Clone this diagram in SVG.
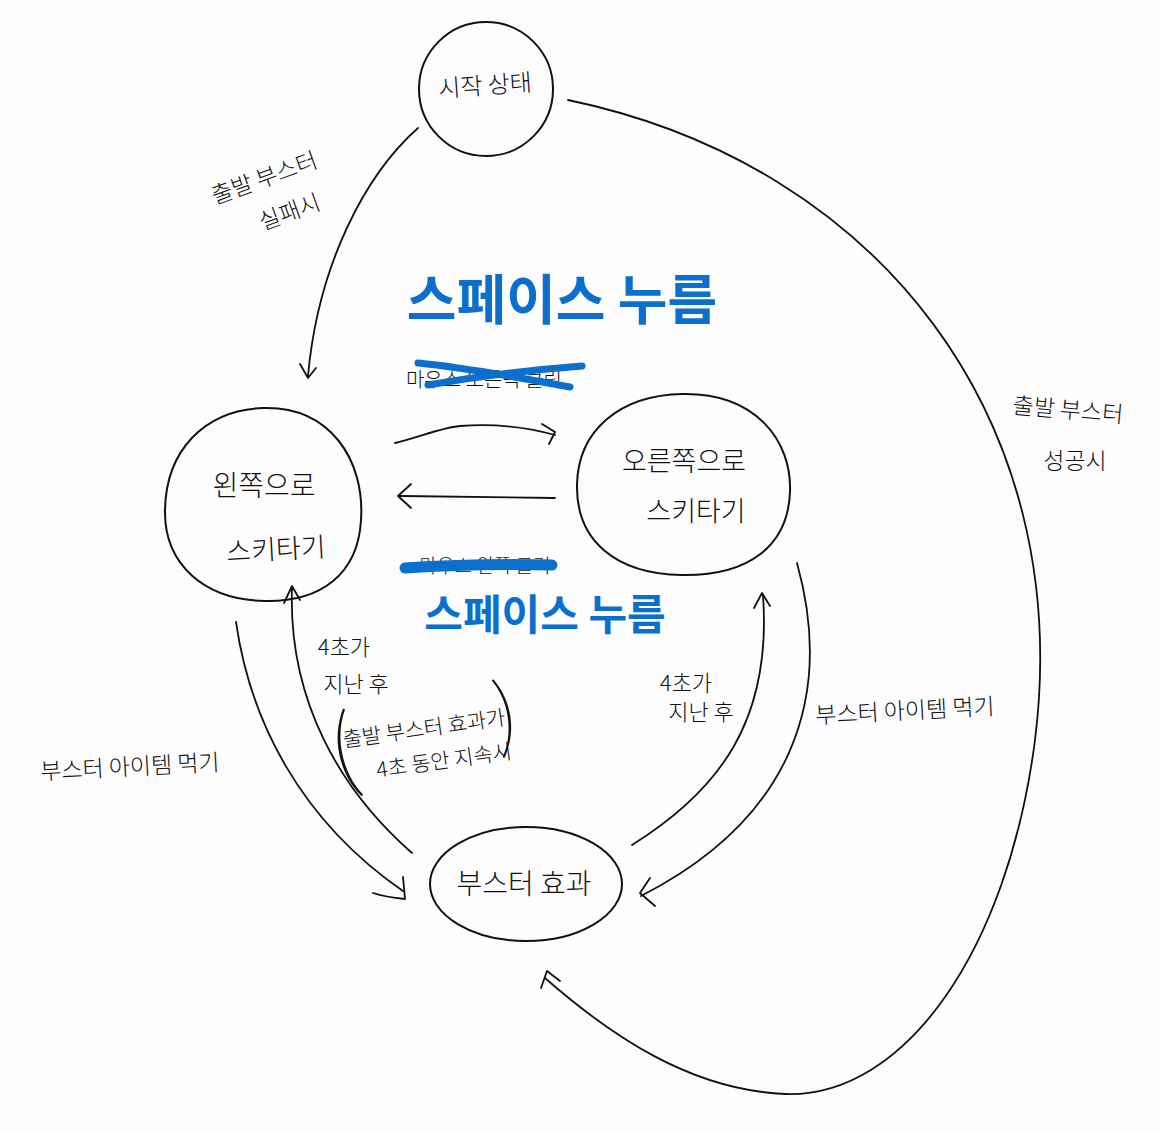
<svg xmlns="http://www.w3.org/2000/svg" width="1159" height="1131" viewBox="0 0 1159 1131">
<defs>
<style>
.n{fill:none;stroke:#111;stroke-width:2}
.c{fill:none;stroke:#111;stroke-width:1.8;stroke-linecap:round;stroke-linejoin:round}
.t{font-family:"Noto Sans CJK KR","Noto Sans",sans-serif;fill:#111;text-anchor:middle;font-weight:300}
.p{font-family:"Noto Sans CJK KR","Noto Sans",sans-serif;fill:#111;text-anchor:middle;font-weight:100}
.b{font-family:"Noto Sans CJK KR","Noto Sans",sans-serif;fill:#0b6fce;text-anchor:middle;font-weight:700}
.x{fill:none;stroke:#0b6fce;stroke-linecap:round}
</style>
</defs>
<rect width="1159" height="1131" fill="#fdfdfd"/>
<g id="start">
<circle class="n" cx="486" cy="89" r="67"/>
<text class="t" x="485" y="94" font-size="24" transform="rotate(-4 485 85)">시작 상태</text>
</g>
<g id="left">
<path class="n" d="M263,408 C330,406 365,460 361,520 C358,575 320,602 265,601 C205,600 164,565 165,510 C166,450 205,410 263,408 Z"/>
<text class="t" x="264" y="496" font-size="28">왼쪽으로</text>
<text class="t" x="276" y="559" font-size="27" transform="rotate(-3 276 550)">스키타기</text>
</g>
<g id="right">
<path class="n" d="M683,394 C755,393 792,440 790,492 C788,545 750,576 682,575 C615,574 576,540 577,485 C578,430 620,395 683,394 Z"/>
<text class="t" x="684" y="471" font-size="27">오른쪽으로</text>
<text class="t" x="696" y="521" font-size="27">스키타기</text>
</g>
<g id="booster">
<ellipse class="n" cx="526" cy="884" rx="96" ry="57"/>
<text class="t" x="524" y="894" font-size="28">부스터 효과</text>
</g>
<g id="connectors">
<path class="c" d="M418,128 C365,175 318,265 308,376"/>
<path class="c" d="M300,364 L308,378 L316,368"/>
<path class="c" d="M568,100 C880,165 1075,420 1035,740 C1008,950 905,1098 785,1094 C690,1090 610,1035 545,978"/>
<path class="c" d="M560,981 L547,971 L541,988"/>
<path class="c" d="M395,443 C420,437 440,428 460,426 C500,423 530,428 555,435"/>
<path class="c" d="M542,424 L555,432 L549,444"/>
<path class="c" d="M555,498 C500,497 450,497 400,496"/>
<path class="c" d="M411,484 L398,496 L411,508"/>
<path class="c" d="M236,622 C250,720 300,820 403,891"/>
<path class="c" d="M373,893 C385,897 395,898 405,899 L403,877"/>
<path class="c" d="M412,853 C340,790 288,700 292,588"/>
<path class="c" d="M284,603 L292,586 L300,600"/>
<path class="c" d="M632,845 C720,790 772,720 763,595"/>
<path class="c" d="M754,608 L762,593 L770,606"/>
<path class="c" d="M797,563 C835,700 790,820 641,896"/>
<path class="c" d="M650,878 L640,893 L655,906"/>
</g>
<g id="labels">
<text class="t" x="265" y="186" font-size="23" transform="rotate(-20 265 180)">출발 부스터</text>
<text class="t" x="290" y="220" font-size="23" transform="rotate(-20 290 213)">실패시</text>
<text class="t" x="1068" y="418" font-size="23" transform="rotate(5 1068 410)">출발 부스터</text>
<text class="t" x="1075" y="469" font-size="23">성공시</text>
<text class="b" x="562" y="320" font-size="54">스페이스 누름</text>
<text class="t" x="484" y="387" font-size="20">마우스 오른쪽 클릭</text>
<path class="x" stroke-width="7" d="M418,363 C470,368 520,378 570,387"/>
<path class="x" stroke-width="7" d="M428,385 C480,376 530,370 582,366"/>
<text class="t" x="485" y="573" font-size="19">마우스 왼쪽 클릭</text>
<path class="x" stroke-width="11" d="M405,568 C450,565 500,564 552,565"/>
<text class="b" x="545" y="630" font-size="42">스페이스 누름</text>
<text class="t" x="344" y="655" font-size="22">4초가</text>
<text class="t" x="356" y="692" font-size="22">지난 후</text>
<text class="t" x="424" y="736" font-size="21" transform="rotate(-8 424 728)">출발 부스터 효과가</text>
<text class="t" x="444" y="768" font-size="21" transform="rotate(-8 444 760)">4초 동안 지속시</text>
<text class="p" x="343" y="782" font-size="90" transform="rotate(-12 343 750)">(</text>
<text class="p" x="506" y="742" font-size="80" transform="rotate(-8 506 715)">)</text>
<text class="t" x="686" y="691" font-size="22">4초가</text>
<text class="t" x="701" y="720" font-size="22">지난 후</text>
<text class="t" x="905" y="719" font-size="23" transform="rotate(-3 905 712)">부스터 아이템 먹기</text>
<text class="t" x="130" y="775" font-size="23" transform="rotate(-3 130 768)">부스터 아이템 먹기</text>
</g>
</svg>
